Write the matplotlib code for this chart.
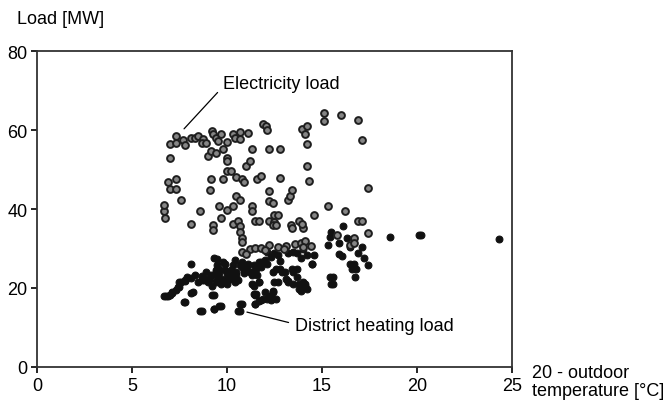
import matplotlib
matplotlib.use("Agg")
import matplotlib.pyplot as plt

plt.rcParams['font.family'] = ['Liberation Sans', 'DejaVu Sans']

# electricity load points (x = 20 - outdoor temp, y = load MW)
elec_x = [6.7, 6.7, 6.76, 6.9, 7.0, 7.3, 7.3, 7.0, 7.0, 7.3, 7.3, 7.6, 7.7, 7.8, 8.1, 8.1,
          8.3, 8.5, 8.75, 8.7, 8.6, 8.9, 9.0, 9.15, 9.2, 9.25, 9.15, 9.1, 9.26, 9.26, 9.4,
          9.4, 9.55, 9.7, 9.6, 9.7, 9.8, 9.8, 10.0, 10.0, 10.0, 10.2, 10.0, 10.0, 10.3, 10.3,
          10.4, 10.5, 10.5, 10.7, 10.7, 10.7, 10.3, 10.6, 10.7, 10.7, 10.8, 10.9, 10.8, 10.8,
          11.1, 11.0, 11.2, 11.3, 11.3, 11.3, 11.6, 11.8, 11.9, 12.05, 12.1, 12.2, 12.2, 12.2,
          12.4, 12.5, 12.8, 12.8, 11.5, 11.7, 12.2, 12.5, 12.7, 12.4, 12.6, 13.2, 13.3, 13.4,
          13.35, 13.4, 13.95, 14.1, 14.2, 14.2, 14.2, 14.3, 13.8, 14.0, 13.95, 14.6, 15.1, 15.1,
          15.3, 16.0, 16.2, 16.9, 17.1, 17.4, 16.9, 17.1, 17.4, 16.7,
          11.2, 11.5, 11.8, 12.2, 12.7, 13.1, 13.6, 13.9, 14.1, 14.4, 10.8, 15.8, 16.5, 16.7,
          12.0, 13.0, 14.0, 11.0]
elec_y = [39.4, 40.9, 37.7, 46.9, 45.1, 45.1, 47.5, 52.8, 56.4, 56.6, 58.6, 42.4, 57.5, 56.3, 36.3, 57.9,
          58.1, 58.6, 57.7, 56.8, 39.4, 56.6, 53.4, 54.7, 59.8, 58.9, 47.5, 44.9, 36.0, 34.7, 54.3,
          58.1, 57.3, 59.0, 40.7, 37.7, 55.1, 47.5, 53.0, 52.2, 49.6, 49.6, 56.9, 39.8, 40.7, 59.0,
          58.1, 48.0, 43.3, 59.4, 57.7, 42.4, 36.3, 36.9, 35.6, 34.3, 47.5, 46.8, 32.6, 31.7,
          59.2, 50.9, 52.2, 40.7, 39.4, 55.1, 47.5, 48.3, 61.5, 60.9, 60.0, 55.1, 44.5, 42.1,
          41.5, 38.4, 55.1, 47.9, 36.9, 37.0, 37.0, 36.7, 38.6, 36.0, 36.0, 42.4, 43.3, 44.9,
          36.0, 35.1, 60.3, 59.0, 61.1, 56.4, 50.9, 47.2, 37.0, 35.1, 36.2, 38.6, 64.3, 62.4,
          40.7, 63.7, 39.4, 62.6, 57.5, 45.4, 36.9, 37.0, 33.9, 32.6,
          30.0, 30.2, 30.2, 30.9, 30.5, 30.7, 31.1, 31.3, 31.9, 30.7, 29.2, 33.3, 30.9, 31.3,
          29.5, 30.0, 30.3, 28.5]

# district heating load points
heat_x = [6.7, 6.9, 7.0, 7.1, 7.3, 7.5, 7.6, 7.8, 8.1, 8.1, 7.75, 8.1, 8.3, 8.6, 8.7, 8.9,
          9.15, 9.2, 9.3, 9.3, 9.2, 9.6, 9.4, 9.5, 9.6, 9.7, 9.8, 9.9, 10.0, 10.2, 10.2, 10.3,
          10.4, 10.5, 10.6, 10.7, 10.7, 10.8, 10.9, 11.0, 11.2, 11.3, 11.4, 11.45, 11.5, 11.6,
          11.7, 11.8, 11.8, 11.9, 12.0, 12.2, 12.3, 12.4, 12.5, 12.6, 12.7, 12.9, 13.1, 13.2,
          13.4, 13.5, 13.7, 13.8, 14.1, 14.2, 14.5, 14.6, 15.3, 15.4, 15.45, 15.4, 15.45, 15.9,
          15.9, 16.1, 16.3, 16.5, 16.5, 16.6, 16.75, 16.9, 17.1, 17.2, 17.4, 18.6, 20.1, 20.2,
          24.3,
          8.5, 8.8, 9.0, 9.4, 9.7, 10.0, 10.4, 10.6, 10.9, 11.3, 11.4, 11.8, 12.3, 12.1, 12.5,
          13.2, 13.5, 13.7, 13.8, 14.1, 9.9, 10.1, 10.3, 9.5, 8.9, 11.1, 12.0, 14.0, 13.9, 12.8,
          9.5, 6.8, 7.1, 7.4, 7.5, 7.8, 7.9, 8.2, 7.8, 8.7, 9.3, 9.7, 10.7, 10.8, 9.3, 8.7,
          9.1, 9.4, 9.6, 9.9, 10.2, 10.5, 10.8, 11.05, 11.3, 11.55, 11.7, 12.1, 12.4, 12.8,
          11.4, 11.7, 11.55, 11.7, 11.5, 12.1, 12.4, 12.6, 12.3, 12.7, 13.2, 13.5, 13.05, 13.7,
          14.0, 14.2, 13.9, 14.5, 15.6, 15.6, 16.05, 16.7, 16.8]
heat_y = [18.1, 18.0, 18.3, 18.8, 19.4, 20.2, 21.4, 22.0, 22.6, 26.0, 16.4, 18.7, 23.4, 14.3, 22.0, 22.4,
          23.2, 20.4, 27.5, 14.8, 18.3, 15.4, 24.5, 25.8, 23.7, 22.4, 26.6, 24.5, 23.2, 22.4, 24.5, 25.8,
          27.1, 23.2, 14.3, 16.0, 25.8, 26.6, 24.3, 24.9, 24.1, 20.9, 18.6, 16.0, 18.3, 23.2,
          21.5, 25.4, 16.9, 17.3, 19.0, 18.1, 17.0, 19.0, 21.5, 24.9, 28.3, 24.1, 22.4, 21.5,
          24.9, 24.1, 28.8, 19.8, 21.1, 28.3, 26.2, 28.3, 30.9, 33.0, 34.3, 22.8, 20.9, 31.3,
          28.5, 35.6, 32.6, 30.5, 26.2, 24.9, 22.8, 28.8, 30.5, 27.5, 25.8, 32.8, 33.4, 33.3,
          32.4,
          21.5, 21.9, 21.5, 21.5, 21.1, 21.1, 21.5, 22.0, 23.7, 23.2, 25.8, 26.6, 27.9, 29.1, 28.8,
          28.8, 29.2, 22.8, 21.1, 20.5, 21.8, 23.8, 22.9, 22.9, 24.0, 26.0, 27.0, 29.8, 27.5, 26.8,
          27.3, 18.0, 19.0, 20.3, 21.5, 21.8, 22.8, 19.0, 16.5, 14.2, 14.7, 15.4, 14.2, 15.9, 18.2, 23.0,
          22.3, 24.0, 24.8, 26.1, 23.0, 24.0, 25.3, 25.6, 24.0, 24.8, 26.6, 26.1, 24.0, 24.8,
          20.5, 21.5, 18.5, 16.7, 15.9, 17.2, 19.2, 17.2, 18.0, 21.5, 21.8, 21.0, 24.0, 24.8,
          21.5, 19.7, 19.2, 26.1, 22.8, 21.0, 28.1, 26.1, 24.8]

x_ticks = [0, 5, 10, 15, 20, 25]
y_ticks = [0, 20, 40, 60, 80]

fig = plt.figure(figsize=(6.68, 4.02), dpi=100)
ax = fig.add_axes([0.0554, 0.0846, 0.711, 0.786])

ax.scatter(heat_x, heat_y, s=24, c='#111111', edgecolors='#111111', linewidths=0.8, zorder=3)
ax.scatter(elec_x, elec_y, s=24, c='#858585', edgecolors='#1e1e1e', linewidths=1.4, zorder=4)

ax.set_xlim(0, 25)
ax.set_ylim(0, 80)
ax.set_xticks(x_ticks)
ax.set_yticks(y_ticks)
ax.tick_params(labelsize=13, direction='out', length=4, width=1.2, pad=3)
for sp in ax.spines.values():
    sp.set_linewidth(1.3)
    sp.set_color('#333333')

# annotations
ax.annotate('Electricity load', xy=(7.74, 60.3), xytext=(9.8, 71.9), fontsize=13,
            va='center', ha='left',
            arrowprops=dict(arrowstyle='-', color='black', lw=0.9, shrinkA=3, shrinkB=0,
                            relpos=(0, 0.3)))
ax.annotate('District heating load', xy=(11.05, 13.9), xytext=(13.6, 10.4), fontsize=13,
            va='center', ha='left',
            arrowprops=dict(arrowstyle='-', color='black', lw=0.9, shrinkA=3, shrinkB=0,
                            relpos=(0, 0.6)))

fig.text(0.025, 0.952, 'Load [MW]', fontsize=13, ha='left', va='center')
fig.text(0.796, 0.048, '20 - outdoor\ntemperature [°C]', fontsize=13, ha='left', va='center',
         linespacing=1.05)

plt.savefig('out.png', dpi=100)
